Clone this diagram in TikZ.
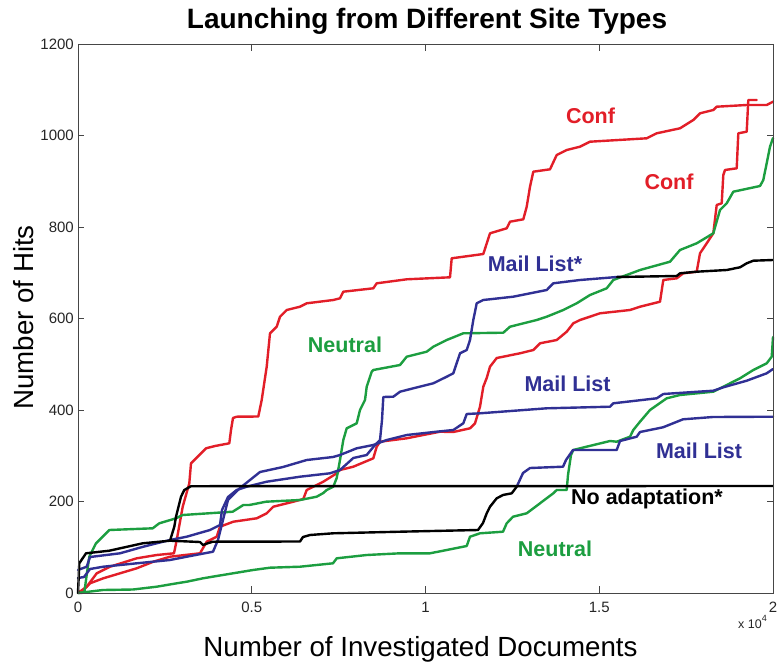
\documentclass[tikz,border=0pt]{standalone}
\usepackage{fontspec}
\setmainfont{Liberation Sans}
\definecolor{confred}{RGB}{226,30,40}
\definecolor{neutgreen}{RGB}{28,158,64}
\definecolor{mailblue}{RGB}{48,48,148}
\definecolor{axisgray}{RGB}{70,70,70}
\tikzset{
  curve/.style={line width=2.4pt, line join=round, line cap=round},
  axisline/.style={draw=axisgray, line width=0.9pt},
  ticklbl/.style={inner sep=0pt, font=\fontsize{15}{15}\selectfont, text=black!85},
  curvelbl/.style={inner sep=0pt, anchor=base, font=\fontsize{21.5}{21.5}\selectfont\bfseries},
}
\begin{document}
\begin{tikzpicture}[x=1pt,y=-1pt]
\useasboundingbox (0,0) rectangle (778,666);
\fill[white] (0,0) rectangle (778,666);

% data curves (pixel coordinates, y downwards)
\draw[curve, confred] (78,593) -- (86.7,586.7) -- (96.7,573.3) -- (110,566.7) -- (136.7,558.3) -- (156.7,555) -- (174,553.3) -- (176.7,540) -- (182.7,506.7) -- (186,495) -- (189.3,483.3) -- (191,463.3) -- (199.3,455) -- (206,448.3) -- (215,446) -- (229.3,443.3) -- (231,430) -- (233,418) -- (236.7,416.7) -- (258.3,416.5) -- (261.7,400) -- (266.7,366.7) -- (270,333.3) -- (276.7,326.7) -- (280,316.7) -- (286.7,310) -- (300,306.7) -- (306.7,303.3) -- (333.3,300) -- (340,298.3) -- (343.3,291.7) -- (373.3,288.3) -- (376.7,283.3) -- (406.7,279.3) -- (450,277.3) -- (451.7,258.3) -- (483.3,254) -- (490,233.3) -- (506.7,228.3) -- (510,221.7) -- (523.3,219.3) -- (526.7,206.7) -- (530,186.7) -- (533.3,171.7) -- (550,169.3) -- (556.7,155) -- (566.7,150) -- (580,146.7) -- (590,141.7) -- (646.7,138.3) -- (656.7,133.3) -- (680,128.3) -- (693.3,120) -- (700,113.3) -- (713.3,110) -- (716.7,106.7) -- (746.7,105) -- (766.7,105) -- (773,101.7);

\draw[curve, confred] (78,593) -- (83.3,590) -- (90,583.3) -- (103.3,578.3) -- (120,573.3) -- (136.7,568.3) -- (153.3,561.7) -- (170,556.7) -- (200,553.3) -- (206.7,541.7) -- (216.7,536.7) -- (220,526.7) -- (233.3,521.7) -- (256.7,518.3) -- (266.7,513.3) -- (273.3,506.7) -- (293.3,501.7) -- (303.3,499) -- (306.7,490) -- (323.3,481.7) -- (336.7,473.3) -- (340,470) -- (353.3,466.7) -- (373.3,458.3) -- (376.7,446.7) -- (380,441.7) -- (406.7,438.3) -- (423.3,435) -- (440,431.7) -- (453.3,432) -- (470,428.3) -- (475,423.3) -- (480,406.7) -- (483.3,386.7) -- (486.7,378) -- (490,366.7) -- (496.7,358) -- (520,353.3) -- (533.3,350) -- (540,343.3) -- (556.7,340) -- (566.7,331.7) -- (573.3,323.3) -- (580,320) -- (600,313.3) -- (630,310) -- (640,306.7) -- (660,301.7) -- (663.3,280) -- (676.7,278.3) -- (683.3,273.3) -- (696.7,271.7) -- (700,253.3) -- (706.7,243.3) -- (713.3,233.3) -- (716.7,205) -- (721.7,203.3) -- (723.3,175) -- (725,170) -- (736.7,168.3) -- (738.3,133.3) -- (746.7,131.7) -- (748.3,100) -- (756.7,100);

\draw[curve, neutgreen] (78,593) -- (103,590) -- (133,589.5) -- (156.7,586.7) -- (176.7,583.3) -- (186.7,581.7) -- (203,578.3) -- (216.7,576) -- (236.7,572.7) -- (253,570) -- (270,567.7) -- (300,566.7) -- (333,563.3) -- (336.7,558.3) -- (366.7,555) -- (400,553.3) -- (430,553.3) -- (446.7,550) -- (466.7,546) -- (470,536.7) -- (480,533.3) -- (503,531.7) -- (506.7,523.3) -- (513,516.7) -- (526.7,513.3) -- (540,503.3) -- (553.3,493.3) -- (556.7,490) -- (566.7,490) -- (568,475) -- (571,455) -- (573.3,450) -- (580,448.3) -- (610,441) -- (616.7,441.7) -- (630,436.7) -- (633.3,430) -- (640,421.7) -- (650,410) -- (666.7,398.3) -- (680,395) -- (713.3,391.7) -- (723.3,386.7) -- (740,378.3) -- (753.3,370) -- (766.7,363.3) -- (771.7,356.7) -- (773,337);

\draw[curve, neutgreen] (78,593) -- (84.3,592.7) -- (86,580) -- (89.3,556.7) -- (96,543.3) -- (106,533.3) -- (109.3,530) -- (152.7,528.3) -- (159.3,523.3) -- (176,518.3) -- (182.7,515) -- (232.7,511.7) -- (243.3,505) -- (249.3,505) -- (266,501.7) -- (300,500) -- (316.7,496.7) -- (323.3,493) -- (326.7,490) -- (333.3,486.7) -- (336.7,478) -- (340,460) -- (343.3,440) -- (346.7,428.3) -- (356.7,423.3) -- (360,410) -- (365,400) -- (366.7,386.7) -- (371.7,371.7) -- (373.3,370) -- (400,365) -- (406.7,356.7) -- (426.7,351.7) -- (433.3,346.7) -- (446.7,340) -- (463.3,333.3) -- (503.3,332.7) -- (510,326.7) -- (536.7,320) -- (546.7,316.7) -- (563.3,310) -- (576.7,303.3) -- (590,295) -- (606.7,288.3) -- (613.3,280) -- (640,270) -- (670,261.7) -- (680,250) -- (696.7,243.3) -- (713.3,233.3) -- (720,210) -- (726.7,203.3) -- (733.3,191.7) -- (760,186) -- (763.3,180) -- (770,146.7) -- (773,138);

\draw[curve, mailblue] (78,578) -- (84,577) -- (90,569) -- (103.3,566.7) -- (136.7,563.3) -- (170,560) -- (186.7,556.7) -- (213,551.7) -- (218,540) -- (223,520) -- (228,500) -- (240,488) -- (260,472) -- (283,467) -- (306.7,460) -- (333,457) -- (340,455) -- (356.7,448.3) -- (373.3,445) -- (386.7,440) -- (406.7,435) -- (436.7,431.7) -- (453.3,430) -- (463.3,423.3) -- (466.7,414) -- (480,413.3) -- (546.7,408.3) -- (610,406.7) -- (613.3,403.3) -- (656.7,398.3) -- (663.3,394) -- (713.3,390.7) -- (723.3,387.3) -- (746.7,380.7) -- (766.7,373.3) -- (773,369);

\draw[curve, mailblue] (78,570) -- (86.7,566.7) -- (90,557) -- (120,553.3) -- (143.3,546.7) -- (156.7,543.3) -- (170,540) -- (186.7,536.7) -- (210,530) -- (220,525) -- (222,510) -- (228,497) -- (236.7,490) -- (246.7,486.7) -- (266.7,481.7) -- (300,476.7) -- (330,473.3) -- (340,470) -- (353.3,458) -- (366.7,455) -- (373.3,447) -- (380,440) -- (382,420) -- (383.3,397) -- (393.3,396.7) -- (400,391.7) -- (413.3,388.3) -- (433.3,383.3) -- (446.7,376.7) -- (453.3,373.3) -- (460,353.3) -- (466.7,350) -- (470,340) -- (473.3,320) -- (476.7,303.3) -- (483.3,300) -- (513.3,296.7) -- (546.7,290) -- (553.3,283.3) -- (580,280) -- (613.3,277.3) -- (620,276.7);

\draw[curve, mailblue] (516.7,486.7) -- (523,473) -- (530,468) -- (563,466.7) -- (566,460) -- (573,450) -- (616.7,450) -- (620,441) -- (636.7,436.7) -- (640,432) -- (663,427.3) -- (683,419.3) -- (713,417) -- (773,416.7);

% black curves
\draw[curve, black] (78,593) -- (79.3,563.3) -- (86,553.3) -- (109.3,550.7) -- (142.7,543.3) -- (170,540.7) -- (174.3,526.7) -- (176,516.7) -- (181,496.7) -- (184.3,490) -- (191,486.2) -- (773,486);
\draw[curve, black] (170,540.7) -- (200,542) -- (203,545) -- (207.7,543.3) -- (212.7,541.7) -- (300,541.5) -- (303,537) -- (310,535) -- (333,533.3) -- (400,531.7) -- (478,530) -- (483,523) -- (486.7,513.3) -- (490,506.7) -- (496.7,498.3) -- (503,495) -- (511.7,493.3) -- (516.7,486.7);
\draw[curve, black] (617,277) -- (676.7,276) -- (680,273.3) -- (696.7,271.7) -- (726.7,270) -- (740,267.3) -- (746.7,263.3) -- (753.3,260.7) -- (773,260);

% axes box and ticks
\draw[axisline] (78,44) rectangle (773,593);
\foreach \tx in {78,251.75,425.5,599.25,773} {
  \draw[axisline] (\tx,593) -- (\tx,586);
  \draw[axisline] (\tx,44) -- (\tx,51);
}
\foreach \ty in {593,501.5,410,318.5,227,135.5,44} {
  \draw[axisline] (78,\ty) -- (84,\ty);
  \draw[axisline] (773,\ty) -- (767,\ty);
}

% tick labels
\node[ticklbl, anchor=east] (y0) at (74,593) {0};
\node[ticklbl, anchor=east] (y200) at (74,501.5) {200};
\node[ticklbl, anchor=east] (y400) at (74,410) {400};
\node[ticklbl, anchor=east] (y600) at (74,318.5) {600};
\node[ticklbl, anchor=east] (y800) at (74,227) {800};
\node[ticklbl, anchor=east] (y1000) at (74,135.5) {1000};
\node[ticklbl, anchor=east] (y1200) at (74,44) {1200};
\node[ticklbl, anchor=base] (x0) at (78,612) {0};
\node[ticklbl, anchor=base] (x05) at (251.75,612) {0.5};
\node[ticklbl, anchor=base] (x1) at (425.5,612) {1};
\node[ticklbl, anchor=base] (x15) at (599.25,612) {1.5};
\node[ticklbl, anchor=base] (x2) at (773,612) {2};
\node[inner sep=0pt, anchor=base west, font=\fontsize{12.5}{12.5}\selectfont, text=black!85] (xscale) at (738,628) {x 10\raisebox{7pt}{\fontsize{9}{9}\selectfont 4}};

% titles
\node[inner sep=0pt, anchor=base, font=\fontsize{28}{28}\selectfont\bfseries] (title) at (427,29) {Launching from Different Site Types};
\node[inner sep=0pt, anchor=base, font=\fontsize{27.7}{27.7}\selectfont] (xlabel) at (420.5,656) {Number of Investigated Documents};
\node[inner sep=0pt, anchor=base, rotate=90, font=\fontsize{27.7}{27.7}\selectfont] (ylabel) at (33,317.5) {Number of Hits};

% curve labels
\node[curvelbl, text=confred] (conf1) at (590.5,124) {Conf};
\node[curvelbl, text=confred] (conf2) at (669,189) {Conf};
\node[curvelbl, text=mailblue] (mailstar) at (535,271) {Mail List*};
\node[curvelbl, text=neutgreen] (neut1) at (345,352) {Neutral};
\node[curvelbl, text=mailblue] (mail1) at (567.5,391) {Mail List};
\node[curvelbl, text=mailblue] (mail2) at (699,458) {Mail List};
\node[curvelbl, text=black] (noadapt) at (647,504) {No adaptation*};
\node[curvelbl, text=neutgreen] (neut2) at (555,556) {Neutral};
\end{tikzpicture}
\end{document}
